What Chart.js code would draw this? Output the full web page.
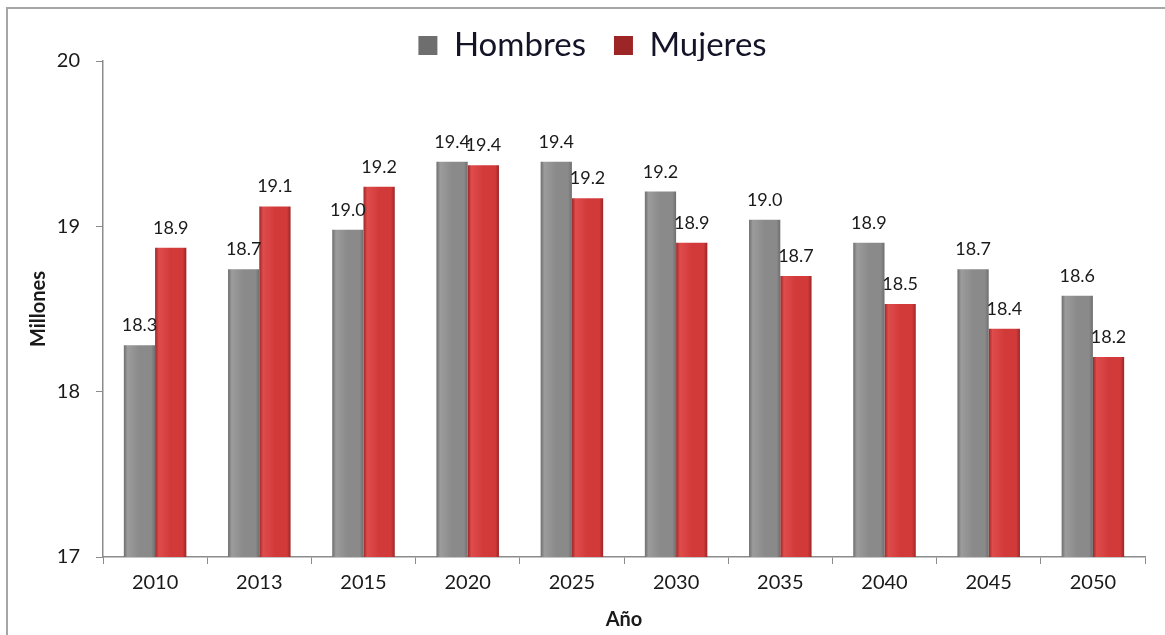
<!DOCTYPE html>
<html>
<head>
<meta charset="utf-8">
<script src="https://cdn.jsdelivr.net/npm/chart.js"></script>
<style>
  html, body { margin: 0; padding: 0; background: #fff; }
  #wrap { width: 1165px; height: 635px; position: relative; }
</style>
</head>
<body>
<div id="wrap"><canvas id="myChart" width="1165" height="635"></canvas></div>
<script>
const years = ['2010', '2013', '2015', '2020', '2025', '2030', '2035', '2040', '2045', '2050'];
const hombres = [18.28, 18.74, 18.98, 19.39, 19.39, 19.21, 19.04, 18.90, 18.74, 18.58];
const mujeres = [18.87, 19.12, 19.24, 19.37, 19.17, 18.90, 18.70, 18.53, 18.38, 18.21];
const yTicks = [17, 18, 19, 20];

const FONT = 'Lato, "Open Sans", sans-serif';

// shaded bar fill, built from the bar's own position once it exists
function barFill(dark, mid, light, flat) {
  return function (c) {
    if (c.dataIndex === undefined) return flat;
    const el = c.chart.getDatasetMeta(c.datasetIndex).data[c.dataIndex];
    if (!el || !isFinite(el.x) || !el.width) return flat;
    const x0 = el.x - el.width / 2;
    const g = c.chart.ctx.createLinearGradient(x0, 0, x0 + el.width, 0);
    g.addColorStop(0, dark);
    g.addColorStop(0.12, light);
    g.addColorStop(0.5, mid);
    g.addColorStop(0.88, mid);
    g.addColorStop(1, dark);
    return g;
  };
}

const frame = {
  id: 'frame',
  afterInit(chart) {
    // legend sits closer to the plot than Chart.js leaves by default
    const fit = chart.legend.fit;
    chart.legend.fit = function () { fit.call(this); this.height -= 11; };
  },
  afterLayout(chart) {
    // legend is centred a little right of the canvas middle
    chart.legend.left += 20;
    chart.legend.right += 20;
  },
  beforeDraw(chart) {
    const c = chart.ctx;
    c.save();
    c.strokeStyle = '#a6a6a6';
    c.lineWidth = 2;
    c.strokeRect(7, 8, 1300, 800);
    c.restore();
  }
};

const valueLabels = {
  id: 'valueLabels',
  afterDatasetsDraw(chart) {
    const c = chart.ctx;
    c.save();
    c.font = '18px ' + FONT;
    c.fillStyle = '#1a1a1a';
    c.textAlign = 'center';
    c.textBaseline = 'alphabetic';
    chart.data.datasets.forEach((ds, di) => {
      chart.getDatasetMeta(di).data.forEach((el, i) => {
        c.fillText(ds.data[i].toFixed(1), el.x, el.y - 14);
      });
    });
    c.restore();
  }
};

const ctx = document.getElementById('myChart');

const chart = new Chart(ctx, {
  type: 'bar',
  data: {
    labels: years,
    datasets: [{
      label: 'Hombres',
      data: hombres,
      backgroundColor: barFill('#6e6e6e', '#8a8a8a', '#9c9c9c', '#8a8a8a'),
      categoryPercentage: 0.6,
      barPercentage: 1.0
    }, {
      label: 'Mujeres',
      data: mujeres,
      backgroundColor: barFill('#9c2626', '#d23a3a', '#df4c4c', '#d23a3a'),
      categoryPercentage: 0.6,
      barPercentage: 1.0
    }]
  },
  options: {
    responsive: false,
    animation: false,
    layout: { padding: { top: 1, right: 20, bottom: 0, left: 0 } },
    plugins: {
      tooltip: { enabled: false },
      legend: {
        position: 'top',
        labels: {
          font: { family: FONT, size: 33 },
          color: '#141428',
          boxWidth: 19,
          boxHeight: 19,
          padding: 28
        }
      }
    },
    scales: {
      x: {
        afterFit(s) { s.height = 78; },
        grid: { drawOnChartArea: false, drawTicks: true, tickLength: 7, color: '#8c8c8c' },
        border: { color: '#8c8c8c', width: 1.5 },
        ticks: { font: { family: FONT, size: 20 }, color: '#1a1a1a', padding: 7 },
        title: {
          display: true,
          text: 'Año',
          font: { family: FONT, size: 20, weight: 'bold' },
          color: '#1a1a1a',
          padding: { top: 0, bottom: 3 }
        }
      },
      y: {
        min: 17,
        max: 20,
        afterFit(s) { s.width = 103; },
        afterBuildTicks(s) { s.ticks = yTicks.map(v => ({ value: v })); },
        grid: { drawOnChartArea: false, drawTicks: true, tickLength: 7, color: '#8c8c8c' },
        border: { color: '#8c8c8c', width: 1.5 },
        ticks: { font: { family: FONT, size: 20 }, color: '#1a1a1a', padding: 16 },
        title: {
          display: true,
          text: 'Millones',
          font: { family: FONT, size: 20, weight: 'bold' },
          color: '#1a1a1a',
          padding: { top: 27, bottom: 0 }
        }
      }
    }
  },
  plugins: [frame, valueLabels]
});
chart.update('none');
</script>
</body>
</html>
